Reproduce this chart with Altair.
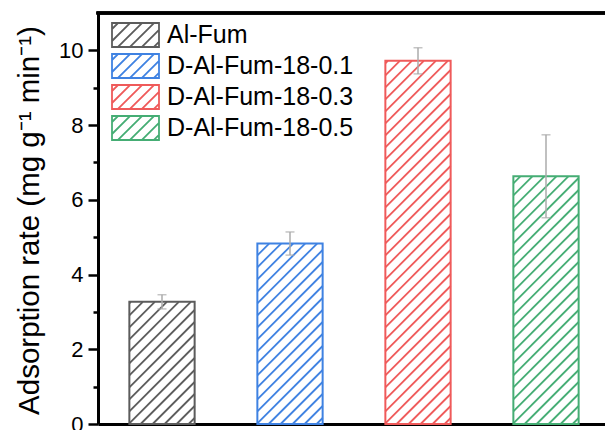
import numpy as np
import pandas as pd
import altair as alt

# ---- data -------------------------------------------------------------
samples = ["Al-Fum", "D-Al-Fum-18-0.1", "D-Al-Fum-18-0.3", "D-Al-Fum-18-0.5"]
rates = [3.27, 4.83, 9.72, 6.63]
errors = [0.19, 0.31, 0.35, 1.11]
colors = ["#5c5c5c", "#3f82e2", "#ef5a5a", "#45ad74"]
y_ticks = list(range(0, 11))

# ---- layout -----------------------------------------------------------
PLOT_W, PLOT_H = 507, 411
X_MIN, X_STEP_PX = 0.5, 128
X_MAX = X_MIN + PLOT_W / X_STEP_PX
Y_MAX = 11
HALF = 0.255          # half bar width (x units)
HATCH_GAP = 12        # px between hatch lines
FONT = "Liberation Sans"

pos = np.arange(1, len(samples) + 1)
bars = pd.DataFrame({"sample": samples, "pos": pos, "rate": rates, "err": errors})
bars["x0"] = bars["pos"] - HALF
bars["x1"] = bars["pos"] + HALF
bars["lo"] = bars["rate"] - bars["err"]
bars["hi"] = bars["rate"] + bars["err"]

# diagonal hatch segments clipped to each bar, in data units
xpx = PLOT_W / (X_MAX - X_MIN)
ypx = PLOT_H / Y_MAX
rows = []
for s, p, r in zip(samples, pos, rates):
    w, h = 2 * HALF * xpx, r * ypx
    for c in np.arange(-w + HATCH_GAP / 2, h, HATCH_GAP):
        u0, u1 = max(0.0, -c), min(w, h - c)
        if u1 - u0 > 0.5:
            rows.append({"sample": s,
                         "hx0": p - HALF + u0 / xpx, "hx1": p - HALF + u1 / xpx,
                         "hy0": (u0 + c) / ypx, "hy1": (u1 + c) / ypx})
hatch = pd.DataFrame(rows)


def swatch_path(gap=0.51, hh=0.51):
    """Hatched rectangle outline in unit symbol coordinates."""
    parts = [f"M-1,{-hh}L1,{-hh}L1,{hh}L-1,{hh}Z"]
    for c in np.arange(-1 - hh + gap / 2, 1 + hh, gap):
        xa, xb = max(-1.0, c - hh), min(1.0, c + hh)
        if xb - xa > 0.02:
            parts.append(f"M{xa:.3f},{c - xa:.3f}L{xb:.3f},{c - xb:.3f}")
    return "".join(parts)


legend = pd.DataFrame({"sample": samples,
                       "lx": [37.5] * 4,
                       "tx": [69] * 4,
                       "ly": [22 + 31 * i for i in range(4)]})

# ---- scales / axes ----------------------------------------------------
xscale = alt.Scale(domain=[X_MIN, X_MAX], nice=False, zero=False)
yscale = alt.Scale(domain=[0, Y_MAX], nice=False)
cscale = alt.Scale(domain=samples, range=colors)

xaxis = alt.Axis(title=None, labels=False, ticks=False, grid=False,
                 domainColor="black", domainWidth=3)
yaxis = alt.Axis(
    values=y_ticks,
    labelExpr="datum.value % 2 === 0 ? datum.label : ''",
    tickSize={"condition": {"test": "datum.value % 2 !== 0", "value": 5}, "value": 10},
    tickWidth=2.5, tickColor="black",
    domainColor="black", domainWidth=3, grid=False,
    labelFont=FONT, labelFontSize=22, labelColor="black", labelPadding=5,
    labelFlush=False, labelOverlap=False, labelBound=False,
    title="Adsorption rate (mg g⁻¹ min⁻¹)",
    titleFont=FONT, titleFontSize=29.5, titleFontWeight="normal", titleColor="black",
    titleAngle=270, titleAlign="center", titleBaseline="alphabetic",
    titleX=-60, titleY=PLOT_H / 2 + 1.5,
)

stroke = alt.Stroke("sample:N", scale=cscale, legend=None)

hatch_layer = alt.Chart(hatch).mark_rule(strokeWidth=1.8).encode(
    x=alt.X("hx0:Q", scale=xscale, axis=xaxis),
    x2="hx1:Q",
    y=alt.Y("hy0:Q", scale=yscale, axis=yaxis),
    y2="hy1:Q",
    stroke=stroke,
)

outline = alt.Chart(bars).mark_rect(filled=False, strokeWidth=2).encode(
    x="x0:Q", x2="x1:Q", y=alt.Y("rate:Q"), y2=alt.datum(0), stroke=stroke,
)

err_line = alt.Chart(bars).mark_rule(color="#ababab", strokeWidth=1.5).encode(
    x="pos:Q", y="lo:Q", y2="hi:Q",
)

err_caps = alt.Chart(bars).transform_fold(["lo", "hi"], as_=["end", "val"]).mark_tick(
    orient="horizontal", size=9, thickness=1.5, color="#ababab"
).encode(x="pos:Q", y="val:Q")

top_frame = alt.Chart(bars).mark_rule(color="black", strokeWidth=3, strokeCap="square").encode(
    x=alt.datum(X_MIN), x2=alt.datum(X_MAX), y=alt.datum(Y_MAX),
)

legend_sw = alt.Chart(legend).mark_point(
    shape=swatch_path(), size=47 * 47, filled=False, strokeWidth=1.8, opacity=1
).encode(
    x=alt.X("lx:Q", scale=None, axis=None),
    y=alt.Y("ly:Q", scale=None, axis=None),
    stroke=stroke,
)

legend_tx = alt.Chart(legend).mark_text(
    align="left", baseline="middle", font=FONT, fontSize=25, color="black"
).encode(
    x=alt.X("tx:Q", scale=None, axis=None),
    y=alt.Y("ly:Q", scale=None, axis=None),
    text="sample:N",
)

chart = alt.layer(
    hatch_layer, outline, err_line, err_caps, top_frame, legend_sw, legend_tx
).properties(
    width=PLOT_W, height=PLOT_H,
    autosize=alt.AutoSizeParams(type="none"),
    padding={"left": 98, "top": 13, "right": 0, "bottom": 6},
    background="white",
).configure_view(stroke=None)

chart.save("out.html", embed_options={"renderer": "svg", "actions": False})
